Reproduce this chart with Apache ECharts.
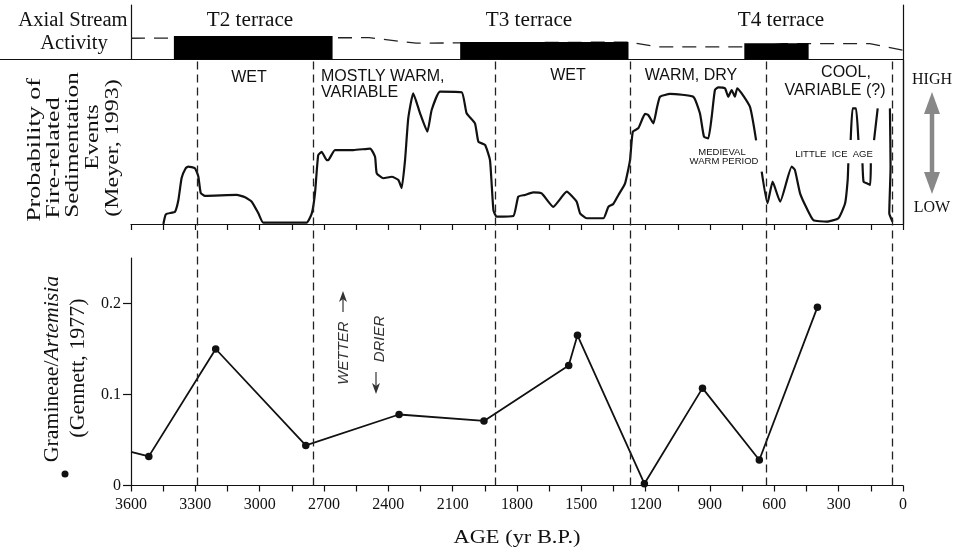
<!DOCTYPE html>
<html>
<head>
<meta charset="utf-8">
<script src="https://cdn.jsdelivr.net/npm/echarts@6/dist/echarts.min.js"></script>
<style>
  html, body { margin: 0; padding: 0; background: #fff; }
  #chart { width: 957px; height: 550px; }
</style>
</head>
<body>
<div id="chart"></div>
<script>
// age axis (yr B.P.), shared by all panels
const ageLabels = [3600, 3300, 3000, 2700, 2400, 2100, 1800, 1500, 1200, 900, 600, 300, 0];
const ratioTicks = [0, 0.1, 0.2];
const ratioLabels = ['0', '0.1', '0.2'];

// axial stream activity: terrace blocks + dashed stream level
const terraceStart = [3400, 2065, 740];
const terraceEnd = [2660, 1280, 440];
const terraceTop = [0.43, 0.32, 0.30];
const streamAge = [3600, 2490, 2270, 1280, 1140, 700, 560, 155, 0];
const streamLevel = [0.39, 0.40, 0.30, 0.32, 0.23, 0.23, 0.29, 0.29, 0.17];

// climate boundaries (dashed verticals)
const boundaryAge = [3290, 2750, 1900, 1273, 636, 50];

// probability of fire-related sedimentation events (Meyer, 1993), 0 = low, 1 = high
const fireAge = [3449, 3437, 3395, 3379, 3364, 3345, 3333, 3302, 3286, 3275, 3255, 3107, 3068, 3037, 3006, 2983,
  2781, 2757, 2742, 2727, 2711, 2687, 2680, 2649, 2563, 2485, 2462, 2454, 2423, 2384, 2353, 2338, 2322, 2307,
  2284, 2252, 2218, 2198, 2159, 2058, 2035, 1996, 1980, 1949, 1926, 1910, 1895, 1817, 1794, 1763, 1724, 1685,
  1631, 1568, 1522, 1506, 1475, 1397, 1374, 1351, 1327, 1296, 1273, 1260, 1234, 1203, 1188, 1164, 1148, 1133,
  1086, 978, 947, 928, 908, 892, 877, 861, 830, 815, 799, 784, 773, 714, 685,
  null,
  659, 632, 608, 573, 519, 504, 480, 449, 418, 356, 301, 270, 258, 255,
  null,
  244, 235, 219, 208,
  null,
  189, 184, 169, 153, 150,
  null,
  135, 118,
  null,
  61, 58, 64, 49];
const fireProb = [0, 0.06, 0.075, 0.146, 0.28, 0.34, 0.35, 0.34, 0.29, 0.19, 0.171, 0.177, 0.163, 0.136, 0.065, 0.008,
  0.008, 0.065, 0.187, 0.42, 0.44, 0.39, 0.39, 0.451, 0.451, 0.46, 0.41, 0.309, 0.279, 0.288, 0.268, 0.218, 0.39, 0.645,
  0.797, 0.675, 0.563, 0.695, 0.807, 0.803, 0.675, 0.614, 0.502, 0.482, 0.39, 0.085, 0.045, 0.049, 0.167, 0.177, 0.193, 0.187,
  0.105, 0.197, 0.136, 0.065, 0.035, 0.035, 0.105, 0.122, 0.177, 0.248, 0.39, 0.563, 0.584, 0.671, 0.665, 0.614, 0.705, 0.776,
  0.793, 0.776, 0.675, 0.532, 0.522, 0.654, 0.817, 0.833, 0.827, 0.776, 0.817, 0.776, 0.827, 0.715, 0.51,
  null,
  0.319, 0.126, 0.258, 0.136, 0.35, 0.329, 0.187, 0.096, 0.024, 0.014, 0.035, 0.126, 0.268, 0.37,
  null,
  0.512, 0.705, 0.705, 0.512,
  null,
  0.37, 0.258, 0.248, 0.238, 0.37,
  null,
  0.512, 0.705,
  null,
  0.705, 0.35, 0.065, 0.014];

// Gramineae/Artemisia ratio (Gennett, 1977)
const pollenAge = [3600, 3517, 3205, 2785, 2350, 1954, 1559, 1518, 1206, 935, 670, 399];
const pollenRatio = [0.037, 0.032, 0.150, 0.044, 0.078, 0.071, 0.132, 0.165, 0.002, 0.107, 0.028, 0.196];

const SERIF = '"Liberation Serif", "DejaVu Serif", serif';
const SANS = '"Liberation Sans", Arial, sans-serif';
const INK = '#111';

const chart = echarts.init(document.getElementById('chart'), null, { renderer: 'canvas' });

const baseX = {
  type: 'value', min: 0, max: 3600, inverse: true, interval: 150,
  splitLine: { show: false }
};
const hiddenY = { type: 'value', min: 0, max: 1, show: false };

function txt(text, x, y, font, opts) {
  opts = opts || {};
  return {
    type: 'text', x: x, y: y, rotation: opts.rotation || 0, silent: true,
    scaleX: opts.sx || 1, scaleY: opts.sy || 1,
    style: {
      text: text, font: font, fill: opts.fill || INK,
      textAlign: opts.align || 'center', align: opts.align || 'center',
      textVerticalAlign: 'middle', verticalAlign: 'middle',
      rich: opts.rich
    }
  };
}

const UP = Math.PI / 2;
const graphics = [
  // left part of the top panel's bottom rule
  { type: 'line', silent: true, shape: { x1: 0, y1: 59.5, x2: 131, y2: 59.5 }, style: { stroke: INK, lineWidth: 1.2 } },
  txt('Axial Stream', 73, 21, '20px ' + SERIF, { sx: 1.03 }),
  txt('Activity', 74, 44, '20px ' + SERIF, { sx: 1.03 }),
  txt('T2 terrace', 250, 21, '20px ' + SERIF, { sx: 1.06 }),
  txt('T3 terrace', 529, 21, '20px ' + SERIF, { sx: 1.06 }),
  txt('T4 terrace', 781, 21, '20px ' + SERIF, { sx: 1.06 }),
  // middle panel label (stretched along its length as in the source figure)
  txt('Probability of', 35, 150, '20px ' + SERIF, { rotation: UP, sx: 1.3, sy: 0.9 }),
  txt('Fire-related', 54, 158, '20px ' + SERIF, { rotation: UP, sx: 1.3, sy: 0.9 }),
  txt('Sedimentation', 73, 145, '20px ' + SERIF, { rotation: UP, sx: 1.26, sy: 0.9 }),
  txt('Events', 93, 137, '20px ' + SERIF, { rotation: UP, sx: 1.2, sy: 0.9 }),
  txt('(Meyer, 1993)', 113, 148, '20px ' + SERIF, { rotation: UP, sx: 1.2, sy: 0.9 }),
  // bottom panel label
  {
    type: 'text', x: 53, y: 369, rotation: UP, scaleX: 1.09, silent: true,
    style: {
      text: '{n|Gramineae/}{i|Artemisia}', fill: INK,
      textAlign: 'center', align: 'center', textVerticalAlign: 'middle', verticalAlign: 'middle',
      rich: {
        n: { font: '20px ' + SERIF, fill: INK },
        i: { font: 'italic 20px ' + SERIF, fill: INK }
      }
    }
  },
  txt('(Gennett, 1977)', 79, 368, '20px ' + SERIF, { rotation: UP, sx: 1.1 }),
  { type: 'circle', silent: true, shape: { cx: 65, cy: 474, r: 3.5 }, style: { fill: INK } },
  txt('AGE (yr B.P.)', 517, 538, '19px ' + SERIF, { sx: 1.18 }),
  // climate regimes
  txt('WET', 249, 78, '16px ' + SANS),
  txt('MOSTLY WARM,', 321, 77, '16px ' + SANS, { align: 'left' }),
  txt('VARIABLE', 321, 93, '16px ' + SANS, { align: 'left' }),
  txt('WET', 568, 76, '16px ' + SANS),
  txt('WARM, DRY', 691, 76, '16px ' + SANS),
  txt('COOL,', 846, 73, '16px ' + SANS),
  txt('VARIABLE (?)', 835, 91, '16px ' + SANS),
  txt('MEDIEVAL', 722, 152, '9.5px ' + SANS),
  txt('WARM PERIOD', 724, 161, '9.5px ' + SANS),
  txt('LITTLE  ICE  AGE', 834, 154, '9.5px ' + SANS),
  // HIGH / LOW double arrow
  txt('HIGH', 932, 80, '16px ' + SERIF),
  txt('LOW', 932, 208, '16px ' + SERIF),
  { type: 'line', silent: true, shape: { x1: 932, y1: 105, x2: 932, y2: 181 }, style: { stroke: '#888', lineWidth: 4.5 } },
  { type: 'polygon', silent: true, shape: { points: [[932, 92], [924, 114], [940, 114]] }, style: { fill: '#888' } },
  { type: 'polygon', silent: true, shape: { points: [[932, 194], [924, 172], [940, 172]] }, style: { fill: '#888' } },
  // WETTER / DRIER
  txt('WETTER', 344, 353, 'italic 15px ' + SANS, { rotation: UP, fill: '#333' }),
  txt('DRIER', 380, 339, 'italic 15px ' + SANS, { rotation: UP, fill: '#333' }),
  { type: 'line', silent: true, shape: { x1: 343, y1: 312, x2: 343, y2: 298 }, style: { stroke: '#333', lineWidth: 1.2 } },
  { type: 'polygon', silent: true, shape: { points: [[343, 291], [339, 302], [343, 299], [347, 302]] }, style: { fill: '#333' } },
  { type: 'line', silent: true, shape: { x1: 376, y1: 372, x2: 376, y2: 387 }, style: { stroke: '#333', lineWidth: 1.2 } },
  { type: 'polygon', silent: true, shape: { points: [[376, 394], [372, 383], [376, 386], [380, 383]] }, style: { fill: '#333' } }
];

const option = {
  backgroundColor: '#fff',
  animation: false,
  grid: [
    { left: 131, right: 54, top: 5, height: 54.5 },      // axial stream activity
    { left: 131, right: 54, top: 60, height: 164 },      // fire probability
    { left: 131, right: 54, top: 258, height: 227.5 },   // pollen ratio
    { left: 131, right: 54, top: 60, height: 425.5 }     // boundary overlay
  ],
  xAxis: [
    Object.assign({}, baseX, {
      gridIndex: 0, axisLine: { show: true, lineStyle: { color: INK, width: 1.2 } },
      axisTick: { show: false }, axisLabel: { show: false }
    }),
    Object.assign({}, baseX, {
      gridIndex: 1, axisLine: { show: true, onZero: false, lineStyle: { color: INK, width: 1.2 } },
      axisTick: { show: true, inside: false, length: 6, lineStyle: { color: INK, width: 1.2 } },
      axisLabel: { show: false }
    }),
    Object.assign({}, baseX, {
      gridIndex: 2, axisLine: { show: true, onZero: false, lineStyle: { color: INK, width: 1.2 } },
      axisTick: { show: true, inside: false, length: 6, lineStyle: { color: INK, width: 1.2 } },
      axisLabel: {
        show: true, margin: 11, color: INK, fontFamily: SERIF, fontSize: 16,
        formatter: function (v) { return ageLabels.indexOf(v) >= 0 ? String(v) : ''; }
      }
    }),
    Object.assign({}, baseX, { gridIndex: 3, show: false })
  ],
  yAxis: [
    Object.assign({}, hiddenY, { gridIndex: 0 }),
    { gridIndex: 0, type: 'value', min: 0, max: 1, position: 'left', axisLine: { show: true, lineStyle: { color: INK, width: 1.2 } }, axisTick: { show: false }, axisLabel: { show: false }, splitLine: { show: false } },
    { gridIndex: 0, type: 'value', min: 0, max: 1, position: 'right', axisLine: { show: true, lineStyle: { color: INK, width: 1.2 } }, axisTick: { show: false }, axisLabel: { show: false }, splitLine: { show: false } },
    { gridIndex: 1, type: 'value', min: 0, max: 1, position: 'left', axisLine: { show: true, lineStyle: { color: INK, width: 1.2 } }, axisTick: { show: false }, axisLabel: { show: false }, splitLine: { show: false } },
    { gridIndex: 1, type: 'value', min: 0, max: 1, position: 'right', axisLine: { show: true, lineStyle: { color: INK, width: 1.2 } }, axisTick: { show: false }, axisLabel: { show: false }, splitLine: { show: false } },
    {
      gridIndex: 2, type: 'value', min: 0, max: 0.25, interval: 0.1,
      axisLine: { show: true, onZero: false, lineStyle: { color: INK, width: 1.2 } },
      axisTick: { show: true, length: 8, customValues: ratioTicks, lineStyle: { color: INK, width: 1.2 } },
      axisLabel: {
        show: true, margin: 10, color: INK, fontFamily: SERIF, fontSize: 16,
        customValues: ratioTicks,
        formatter: function (v) {
          const i = ratioTicks.findIndex(function (t) { return Math.abs(t - v) < 1e-9; });
          return i >= 0 ? ratioLabels[i] : '';
        }
      },
      splitLine: { show: false }
    },
    Object.assign({}, hiddenY, { gridIndex: 3 })
  ],
  graphic: graphics,
  series: [
    {
      name: 'Stream level', type: 'line', xAxisIndex: 0, yAxisIndex: 0, z: 2,
      data: streamAge.map(function (a, i) { return [a, streamLevel[i]]; }),
      showSymbol: false, silent: true,
      lineStyle: { color: '#222', width: 1.3, type: [14, 9] }
    },
    {
      name: 'Terraces', type: 'custom', xAxisIndex: 0, yAxisIndex: 0, z: 3, silent: true,
      data: terraceStart.map(function (s, i) { return [s, terraceEnd[i], terraceTop[i]]; }),
      renderItem: function (params, api) {
        const p0 = api.coord([api.value(0), api.value(2)]);
        const p1 = api.coord([api.value(1), 0]);
        return {
          type: 'rect',
          shape: { x: p0[0], y: p0[1], width: p1[0] - p0[0], height: p1[1] - p0[1] },
          style: { fill: '#000' }
        };
      }
    },
    {
      name: 'Fire probability', type: 'line', xAxisIndex: 1, yAxisIndex: 3,
      data: fireAge.map(function (a, i) { return a === null ? ['-', '-'] : [a, fireProb[i]]; }),
      showSymbol: false, connectNulls: false, silent: true, smooth: 0.15,
      lineStyle: { color: INK, width: 2.2 }
    },
    {
      name: 'Gramineae/Artemisia', type: 'line', xAxisIndex: 2, yAxisIndex: 5,
      data: pollenAge.map(function (a, i) {
        return i === 0 ? { value: [a, pollenRatio[i]], symbol: 'none' } : [a, pollenRatio[i]];
      }),
      symbol: 'circle', symbolSize: 7.5, silent: true,
      itemStyle: { color: INK },
      lineStyle: { color: INK, width: 1.8 }
    },
    {
      name: 'Boundaries', type: 'line', xAxisIndex: 3, yAxisIndex: 6,
      data: [], silent: true,
      markLine: {
        silent: true, symbol: 'none', label: { show: false },
        lineStyle: { color: '#222', width: 1.3, type: [8, 5] },
        data: boundaryAge.map(function (a) { return { xAxis: a }; })
      }
    }
  ]
};

chart.setOption(option);
window.addEventListener('resize', function () { chart.resize(); });
</script>
</body>
</html>
